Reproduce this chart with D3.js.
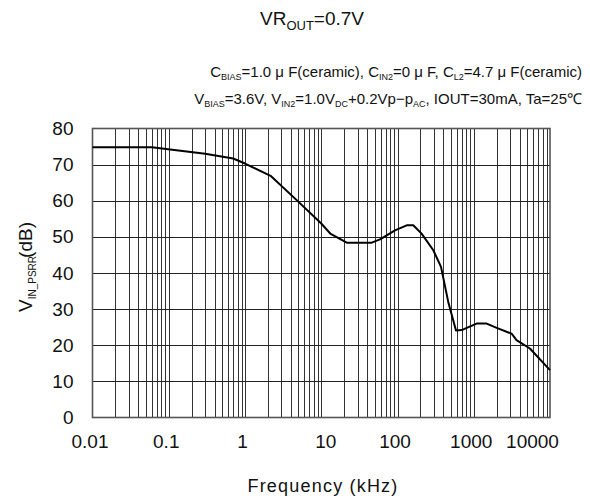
<!DOCTYPE html>
<html><head><meta charset="utf-8">
<script src="https://cdn.jsdelivr.net/npm/d3@7"></script>
<style>
body{margin:0;background:#fff;}
text{font-family:"Liberation Sans",Arial,sans-serif;fill:#111;}
</style></head>
<body><svg id="c" width="590" height="504"></svg>
<script>
const freq = [0.01, 0.06, 0.3, 0.7, 1, 2.2, 4.8, 10, 13.3, 21.6, 45.9, 59, 92.7, 132, 161, 207, 295, 372, 463, 585, 693, 1092, 1478, 2000, 3140, 3640, 5450, 10000];
const psrr = [74.8, 74.8, 73.0, 71.7, 70.3, 66.8, 60.1, 53.7, 50.8, 48.4, 48.4, 49.3, 51.8, 53.2, 53.2, 50.9, 46.3, 41.7, 32.0, 24.1, 24.2, 26.0, 26.0, 24.8, 23.2, 21.4, 19.1, 13.1];
const xTicks = [0.01, 0.1, 1, 10, 100, 1000, 10000];
const xTickLabels = ["0.01", "0.1", "1", "10", "100", "1000", "10000"];
const yTicks = [0, 10, 20, 30, 40, 50, 60, 70, 80];

const svg = d3.select("#c");
const L = 92.5, R = 550, T = 128.5, B = 417.5;
const x = d3.scaleLog().domain([0.01, 10000]).range([L, R]);
const y = d3.scaleLinear().domain([0, 80]).range([B, T]);

// minor/major vertical grid
const vlines = [];
for (let d = -2; d < 4; d++) for (let m = 1; m <= 9; m++) vlines.push(m * Math.pow(10, d));
const g = svg.append("g");
g.selectAll("line.v").data(vlines.filter(v => v > 0.01 && v < 10000)).enter().append("line")
  .attr("x1", d => Math.round(x(d)) + 0.5).attr("x2", d => Math.round(x(d)) + 0.5)
  .attr("y1", T).attr("y2", B).attr("stroke", "#333").attr("stroke-width", 1);
g.selectAll("line.h").data(yTicks.filter(v => v > 0 && v < 80)).enter().append("line")
  .attr("x1", L).attr("x2", R)
  .attr("y1", d => Math.round(y(d)) + 0.5).attr("y2", d => Math.round(y(d)) + 0.5)
  .attr("stroke", "#222").attr("stroke-width", 1);
// frame
svg.append("rect").attr("x", L).attr("y", T).attr("width", R - L).attr("height", B - T)
  .attr("fill", "none").attr("stroke", "#555").attr("stroke-width", 1.6);

// curve
const line = d3.line().x((d, i) => x(freq[i])).y(d => y(d));
svg.append("path").datum(psrr).attr("d", line).attr("fill", "none")
  .attr("stroke", "#000").attr("stroke-width", 2).attr("stroke-linejoin", "round");

// y axis labels
const yAxis = d3.axisLeft(y).tickValues(yTicks).tickSize(0).tickPadding(19);
const ya = svg.append("g").attr("transform", `translate(${L},0)`).call(yAxis);
ya.select(".domain").remove();
ya.selectAll("text").style("font-size", "19px").style("font-family", "Liberation Sans, Arial, sans-serif").attr("fill", "#111");

// x axis labels
const xAxis = d3.axisBottom(x).tickValues(xTicks).tickSize(0).tickPadding(17)
  .tickFormat((d, i) => xTickLabels[i]);
const xa = svg.append("g").attr("transform", `translate(0,${B})`).call(xAxis);
xa.select(".domain").remove();
xa.selectAll("text").style("font-size", "19px").style("font-family", "Liberation Sans, Arial, sans-serif").attr("fill", "#111")
  .attr("dx", (d, i) => i === xTicks.length - 1 ? -18 : (i === 3 ? 4 : -3));

// axis titles
svg.append("text").attr("x", 323).attr("y", 492).attr("text-anchor", "middle")
  .style("font-size", "18px").style("letter-spacing", "1.2px").text("Frequency (kHz)");
const yt = svg.append("text").attr("transform", "translate(32,267) rotate(-90)").attr("text-anchor", "middle")
  .style("font-size", "19px");
yt.append("tspan").text("V");
yt.append("tspan").attr("dy", 4).style("font-size", "10px").text("IN_PSRR");
yt.append("tspan").attr("dy", -4).attr("dx", -2).text("(dB)");

// title
const tt = svg.append("text").attr("x", 312).attr("y", 25).attr("text-anchor", "middle").style("font-size", "19px");
tt.append("tspan").text("VR");
tt.append("tspan").attr("dy", 5).style("font-size", "13px").text("OUT");
tt.append("tspan").attr("dy", -5).text("=0.7V");

// conditions
function rich(yPos, parts) {
  const t = svg.append("text").attr("x", 582).attr("y", yPos).attr("text-anchor", "end").style("font-size", "15px");
  let sub = false;
  parts.forEach(p => {
    const isSub = Array.isArray(p);
    const s = t.append("tspan").text(isSub ? p[0] : p);
    if (isSub && !sub) { s.attr("dy", 3).style("font-size", "9px"); sub = true; }
    else if (isSub) { s.style("font-size", "9px"); }
    else if (sub) { s.attr("dy", -3); sub = false; }
  });
}
rich(77, ["C", ["BIAS"], "=1.0 μ F(ceramic), C", ["IN2"], "=0 μ F, C", ["L2"], "=4.7 μ F(ceramic)"]);
rich(104, ["V", ["BIAS"], "=3.6V, V", ["IN2"], "=1.0V", ["DC"], "+0.2Vp−p", ["AC"], ", IOUT=30mA, Ta=25℃"]);
</script></body></html>
